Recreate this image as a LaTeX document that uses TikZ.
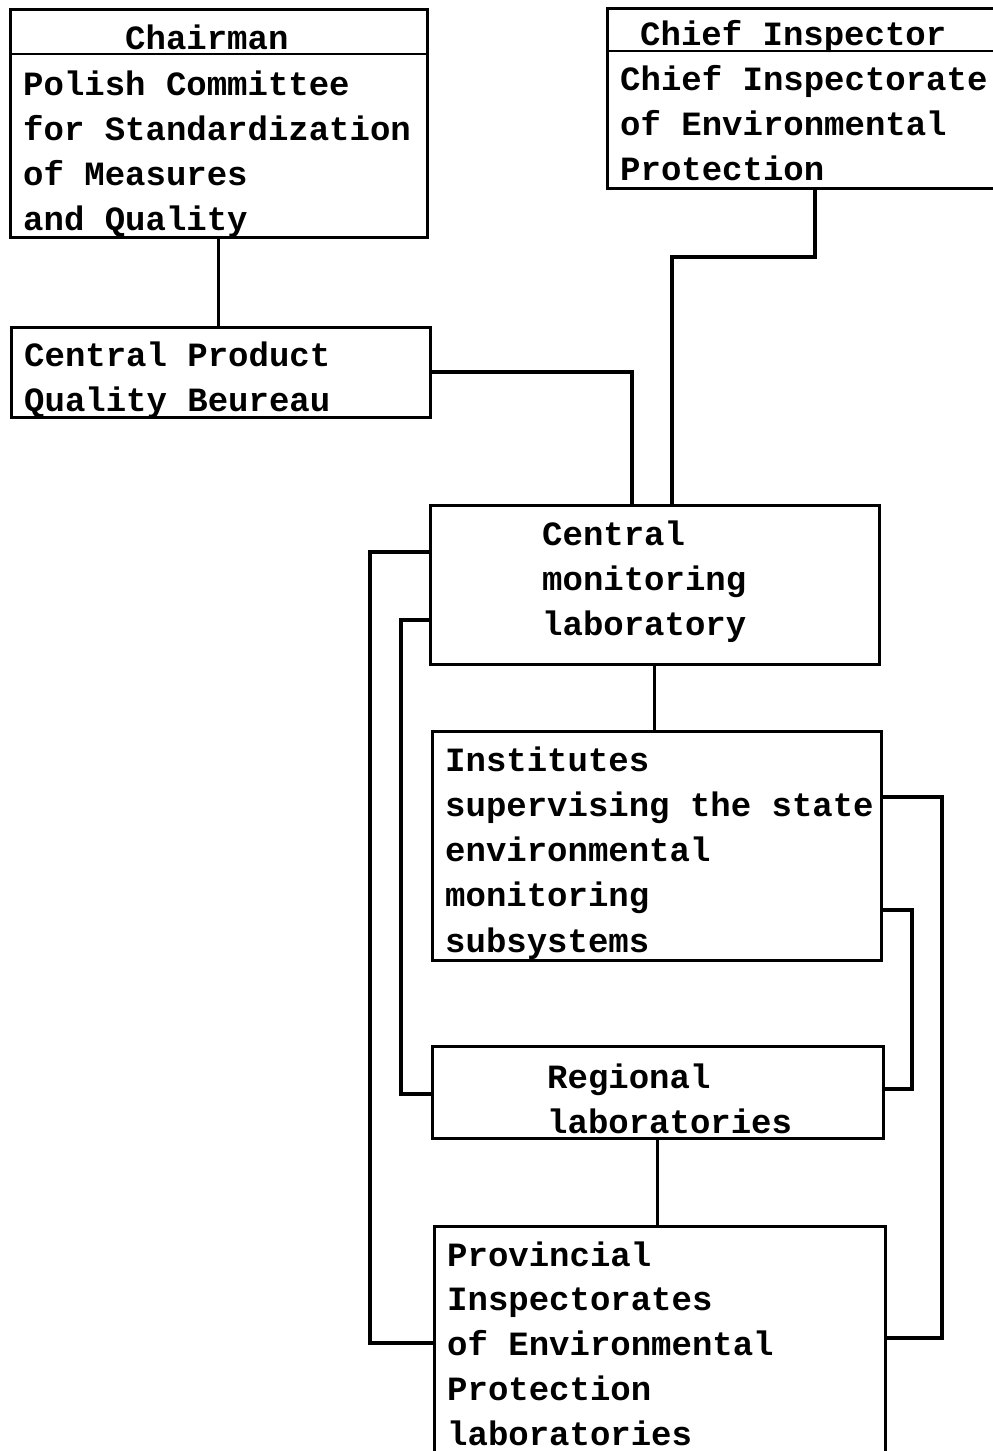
\documentclass[tikz,border=0pt]{standalone}
\usepackage{fontspec}
\newfontfamily\monofnt{Liberation Mono}
\tikzset{
  box/.style={draw, line width=3pt, rectangle, inner sep=0pt, outer sep=0pt, anchor=north west},
  conn/.style={line width=3.2pt, line join=miter},
  txt/.style={anchor=base west, inner sep=0pt, text depth=0pt, font=\monofnt\bfseries\fontsize{34}{40}\selectfont}
}
\newcommand{\textlines}[5]{%
  \foreach \t [count=\i] in {#5} {
    \node[txt] (#3\i) at ({#1},{#2+(\i-1)*#4}) {\t};
  }%
}
\begin{document}
\begin{tikzpicture}[x=1pt,y=-1pt]
\clip (0,0) rectangle (993,1451);
\fill[white] (0,0) rectangle (993,1451);

% boxes
\node[box, minimum width=417pt, minimum height=228pt] (chair) at (10,9) {};
\node[box, minimum width=400pt, minimum height=180pt] (chief) at (607,8) {};
\node[box, minimum width=419pt, minimum height=90pt] (cpqb) at (11,327) {};
\node[box, minimum width=449pt, minimum height=159pt] (cml) at (430,505) {};
\node[box, minimum width=449pt, minimum height=229pt] (inst) at (432,731) {};
\node[box, minimum width=451pt, minimum height=92pt] (reg) at (432,1046) {};
\node[box, minimum width=451pt, minimum height=240pt] (prov) at (434,1226) {};

% dividers
\coordinate (d1) at (0,54);
\coordinate (d2) at (0,51);
\draw[line width=2.6pt] (chair.west |- d1) -- (chair.east |- d1);
\draw[line width=2.6pt] (chief.west |- d2) -- (chief.east |- d2);

% texts
\textlines{125}{49}{tch}{45.3}{Chairman}
\textlines{23}{95}{tpc}{45.3}{Polish Committee,for Standardization,of Measures,and Quality}
\textlines{640}{45}{tci}{45.3}{Chief Inspector}
\textlines{620}{90}{tcp}{45.3}{Chief Inspectorate,of Environmental,Protection}
\textlines{24}{366}{tcq}{45.3}{Central Product,Quality Beureau}
\textlines{542}{545}{tcm}{45.3}{Central,monitoring,laboratory}
\textlines{445}{771}{tin}{45.3}{Institutes,supervising the state,environmental,monitoring,subsystems}
\textlines{547}{1088}{trg}{45.3}{Regional,laboratories}
\textlines{447}{1266}{tpr}{44.8}{Provincial,Inspectorates,of Environmental,Protection,laboratories}

% connector joints
\coordinate (j1) at (632,370);
\coordinate (k1) at (815,257);
\coordinate (k2) at (672,257);
\coordinate (l1) at (370,552);
\coordinate (l2) at (370,1343);
\coordinate (l3) at (401,620);
\coordinate (l4) at (401,1094);
\coordinate (r1) at (942,797);
\coordinate (r2) at (942,1338);
\coordinate (r3) at (912,910);
\coordinate (r4) at (912,1089);

% connectors
\draw[conn] (chair.south) -- (cpqb.north -| chair.south);
\draw[conn] (cpqb.east) -| (cml.north -| j1);
\draw[conn] (chief.south -| k1) -- (k1) -- (k2) -- (cml.north -| k2);
\draw[conn] (cml.south) -- (inst.north -| cml.south);
\draw[conn] (reg.south) -- (prov.north -| reg.south);
\draw[conn] (cml.west |- l1) -- (l1) -- (l2) -- (prov.west |- l2);
\draw[conn] (cml.west |- l3) -- (l3) -- (l4) -- (reg.west |- l4);
\draw[conn] (inst.east |- r1) -- (r1) -- (r2) -- (prov.east |- r2);
\draw[conn] (inst.east |- r3) -- (r3) -- (r4) -- (reg.east |- r4);
\end{tikzpicture}
\end{document}
